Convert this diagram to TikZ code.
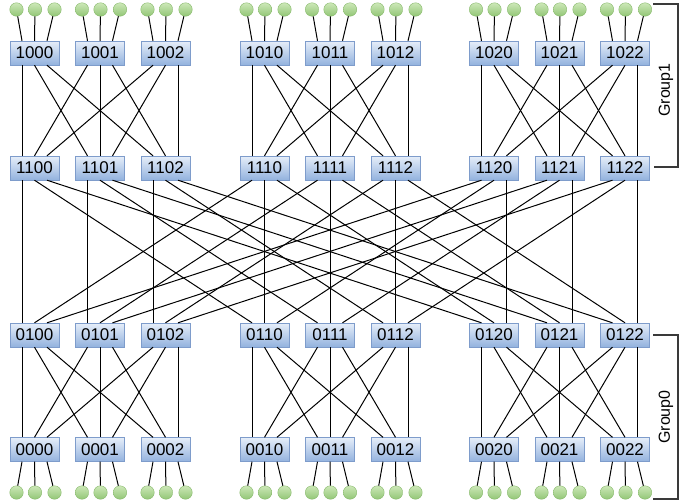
\documentclass[tikz,border=0pt]{standalone}
\usepackage{fontspec}
\setmainfont{Liberation Sans}
\begin{document}
\begin{tikzpicture}[x=1pt,y=-1pt,
  sw/.style={draw=boxedge,top color=boxtop,bottom color=boxbot,minimum width=49pt,minimum height=24pt,inner sep=0pt,font=\fontsize{17}{20}\selectfont},
  host/.style={circle,draw=hostedge,top color=hosttop,bottom color=hostbot,minimum size=13.5pt,inner sep=0pt},
  link/.style={draw=black,line width=1pt},
  brk/.style={draw=brkcol,line width=1.2pt},
  glabel/.style={rotate=90,font=\fontsize{16}{19}\selectfont}]
\definecolor{boxtop}{HTML}{E6EEF9}
\definecolor{boxbot}{HTML}{93B2DE}
\definecolor{boxedge}{HTML}{7E9CCB}
\definecolor{hosttop}{HTML}{CDE8B8}
\definecolor{hostbot}{HTML}{92C676}
\definecolor{hostedge}{HTML}{88BA6C}
\definecolor{brkcol}{HTML}{3A3A3A}
\useasboundingbox (0,0) rectangle (699,501);
% switches
\foreach \a/\base in {0/34.5,1/264.5,2/494}{
  \foreach \b in {0,1,2}{
    \pgfmathsetmacro{\xx}{\base+65.5*\b}
    \node[sw] (n10\a\b) at (\xx,53) {10\a\b};
    \node[sw] (n11\a\b) at (\xx,168) {11\a\b};
    \node[sw] (n01\a\b) at (\xx,335) {01\a\b};
    \node[sw] (n00\a\b) at (\xx,449.5) {00\a\b};
    % hosts
    \foreach \p/\hx in {0/-18,1/0.5,2/20}{
      \node[host] (t\a\b\p) at (\xx+\hx,9.5) {};
      \node[host] (u\a\b\p) at (\xx+\hx,492.5) {};
    }
  }
}
% links
\foreach \a in {0,1,2}{
  \foreach \b in {0,1,2}{
    \foreach \p in {0,1,2}{
      \pgfmathsetmacro{\op}{(\p-1)*12.5}
      \pgfmathsetmacro{\ob}{(\b-1)*12.5}
      \pgfmathsetmacro{\oa}{(\a-1)*12.5}
      \draw[link] (t\a\b\p) -- ([xshift=\op pt]n10\a\b.north);
      \draw[link] (u\a\b\p) -- ([xshift=\op pt]n00\a\b.south);
      \draw[link] ([xshift=\op pt]n10\a\b.south) -- ([xshift=\ob pt]n11\a\p.north);
      \draw[link] ([xshift=\op pt]n11\a\b.south) -- ([xshift=\oa pt]n01\p\b.north);
      \draw[link] ([xshift=\op pt]n01\a\b.south) -- ([xshift=\ob pt]n00\a\p.north);
    }
  }
}
% group brackets
\draw[brk] (653,4) -- (678,4) -- (678,167) -- (654,167);
\draw[brk] (653,335) -- (678,335) -- (678,499) -- (653,499);
\node[glabel] (g1) at (666,90) {Group1};
\node[glabel] (g0) at (666,417) {Group0};
\end{tikzpicture}
\end{document}
